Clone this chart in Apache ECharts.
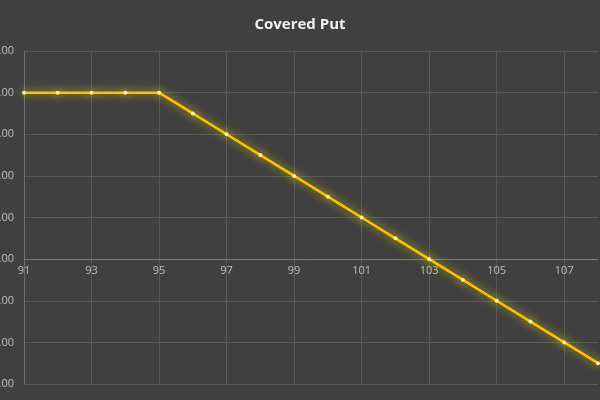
<!DOCTYPE html>
<html>
<head>
<meta charset="utf-8">
<script src="https://cdn.jsdelivr.net/npm/echarts@6/dist/echarts.min.js"></script>
<style>
  html, body { margin: 0; padding: 0; background: #404040; }
  #main { width: 600px; height: 400px; }
</style>
</head>
<body>
<div id="main"></div>
<script>
// 标的价格 (x 轴)
var prices = ['91', '92', '93', '94', '95', '96', '97', '98', '99', '100',
  '101', '102', '103', '104', '105', '106', '107', '108'];
// 盈亏
var profit = [8, 8, 8, 8, 8, 7, 6, 5, 4, 3, 2, 1, 0, -1, -2, -3, -4, -5];
var yMin = -6, yMax = 10, yStep = 2;

var myChart = echarts.init(document.getElementById('main'));
var option = {
  backgroundColor: '#404040',
  animation: false,
  title: {
    text: 'Covered Put',
    left: 'center',
    top: 12,
    textStyle: {
      color: '#f2f2f2',
      fontFamily: 'Open Sans',
      fontWeight: 'bold',
      fontSize: 15
    }
  },
  grid: {
    left: 24,
    right: 2,
    top: 51,
    bottom: 16,
    outerBoundsMode: 'none'
  },
  xAxis: {
    type: 'category',
    data: prices,
    boundaryGap: false,
    // x 轴放在 0 线上
    offset: -125,
    axisLine: { onZero: false, lineStyle: { color: '#7a7a7a', width: 1 } },
    axisTick: { show: false },
    axisLabel: {
      interval: 1,
      color: '#bfbfbf',
      fontSize: 11,
      fontFamily: 'Open Sans',
      margin: 6
    },
    splitLine: {
      show: true,
      interval: 1,
      lineStyle: { color: '#595959', width: 1 }
    }
  },
  yAxis: {
    type: 'value',
    min: yMin,
    max: yMax,
    interval: yStep,
    axisLine: { show: true, lineStyle: { color: '#6e6e6e' } },
    axisTick: { show: false },
    axisLabel: {
      color: '#bfbfbf',
      fontSize: 11,
      fontFamily: 'Open Sans',
      margin: 10,
      formatter: function (v) { return v.toFixed(2); }
    },
    splitLine: { lineStyle: { color: '#595959', width: 1 } }
  },
  series: [{
    type: 'line',
    data: profit,
    symbol: 'circle',
    symbolSize: 4,
    lineStyle: {
      color: '#ffc000',
      width: 2.5,
      shadowColor: 'rgba(255, 230, 0, 0.8)',
      shadowBlur: 10
    },
    itemStyle: {
      color: '#fff09a',
      borderWidth: 0,
      shadowColor: 'rgba(255, 230, 0, 0.9)',
      shadowBlur: 8
    }
  }]
};
myChart.setOption(option);
</script>
</body>
</html>
